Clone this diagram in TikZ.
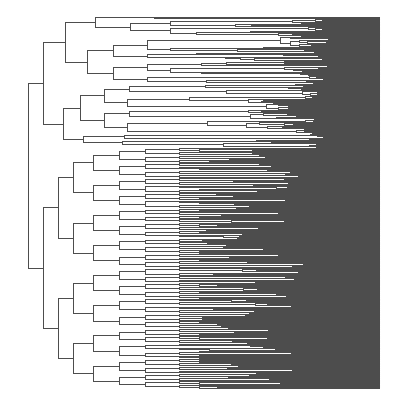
\documentclass[tikz,border=0pt]{standalone}
\definecolor{lc}{RGB}{77,77,77}
\newcount\myrsQ \newcount\myrtQ \newcount\myrqQ
\global\myrsQ=12345
\def\nextr{\myrtQ=\myrsQ \multiply\myrtQ by 171 \myrqQ=\myrtQ \divide\myrqQ by 30269 \multiply\myrqQ by 30269 \advance\myrtQ by -\myrqQ \global\myrsQ=\myrtQ \edef\rrQ{\the\numexpr\myrsQ/3\relax}}
\gdef\Hb{80}
% child x for a child of n leaves, parent x in \xsQ
\newcommand\childx[1]{%
  \ifnum#1=1 \def\xcQ{380}\else
    \nextr
    \pgfmathsetmacro\xcQ{380-(\Hb+50*ln(#1/2))*(0.55+0.9*\rrQ/10090)}%
    \pgfmathsetmacro\xcQ{min(max(\xcQ,\xsQ+0.1*(380-\xsQ)),\xsQ+0.9*(380-\xsQ))}%
  \fi}
% random subtree over leaves #1..#2, node at x=#3
\newcommand\RT[3]{%
  \begingroup
  \edef\loQ{#1}\edef\hiQ{#2}\edef\xsQ{#3}%
  \ifnum\loQ=\hiQ\relax
    \pgfmathsetmacro\ymQ{17.5+0.9416*\loQ}%
    \xdef\retY{\ymQ}\xdef\retX{380}%
  \else
    \edef\nnQ{\the\numexpr\hiQ-\loQ+1\relax}%
    \nextr
    \pgfmathtruncatemacro\naQ{max(1,min(\nnQ-1,floor(\nnQ*(0.3+0.4*\rrQ/10090))))}%
    \edef\kaQ{\the\numexpr\loQ+\naQ-1\relax}%
    \edef\kbQ{\the\numexpr\kaQ+1\relax}%
    \edef\nbQ{\the\numexpr\nnQ-\naQ\relax}%
    \childx{\naQ}%
    \RT{\loQ}{\kaQ}{\xcQ}\edef\yaQ{\retY}\edef\xaQ{\retX}%
    \childx{\nbQ}%
    \RT{\kbQ}{\hiQ}{\xcQ}\edef\ybQ{\retY}\edef\xbQ{\retX}%
    \draw[dl] (\xaQ,\yaQ) -- (\xsQ,\yaQ) -- (\xsQ,\ybQ) -- (\xbQ,\ybQ);
    \pgfmathsetmacro\ymQ{(\yaQ+\ybQ)/2}%
    \xdef\retY{\ymQ}\xdef\retX{\xsQ}%
  \fi
  \endgroup}
% fixed node at x=#1 joining two subtrees
\newcommand\TT[3]{%
  \begingroup
  \edef\xsQ{#1}%
  #2\edef\yaQ{\retY}\edef\xaQ{\retX}%
  #3\edef\ybQ{\retY}\edef\xbQ{\retX}%
  \draw[dl] (\xaQ,\yaQ) -- (\xsQ,\yaQ) -- (\xsQ,\ybQ) -- (\xbQ,\ybQ);
  \pgfmathsetmacro\ymQ{(\yaQ+\ybQ)/2}%
  \xdef\retY{\ymQ}\xdef\retX{\xsQ}%
  \endgroup}
% balanced subtree
\newcommand\BT[3]{%
  \begingroup
  \edef\loQ{#1}\edef\hiQ{#2}\edef\lvQ{#3}%
  \ifnum\lvQ=6\relax
    \RT{\loQ}{\hiQ}{179}%
  \else
    \edef\mdQ{\the\numexpr(\loQ+\hiQ-1)/2\relax}%
    \edef\mdpQ{\the\numexpr\mdQ+1\relax}%
    \edef\nlQ{\the\numexpr\lvQ+1\relax}%
    \edef\xsQ{\ifcase\lvQ\space 43\or 58\or 73\or 93\or 119\or 145\fi}%
    \BT{\loQ}{\mdQ}{\nlQ}\edef\yaQ{\retY}\edef\xaQ{\retX}%
    \BT{\mdpQ}{\hiQ}{\nlQ}\edef\ybQ{\retY}\edef\xbQ{\retX}%
    \draw[dl] (\xaQ,\yaQ) -- (\xsQ,\yaQ) -- (\xsQ,\ybQ) -- (\xbQ,\ybQ);
    \pgfmathsetmacro\ymQ{(\yaQ+\ybQ)/2}%
    \xdef\retY{\ymQ}\xdef\retX{\xsQ}%
  \fi
  \endgroup}
\begin{document}
\begin{tikzpicture}[x=1pt,y=-1pt,dl/.style={draw=lc,line width=1pt}]
\useasboundingbox (0,0) rectangle (407,405);
\TT{28}{%
  \gdef\Hb{92}%
  \TT{43}{%
    \TT{65}{%
      \TT{95}{\RT{0}{1}{154}}{\TT{130}{\RT{2}{10}{170}}{\RT{11}{20}{170}}}%
    }{%
      \TT{87}{\TT{113}{\RT{21}{37}{147}}{\RT{38}{46}{147}}}{\TT{113}{\RT{47}{62}{147}}{\RT{63}{70}{147}}}%
    }%
  }{%
    \TT{63}{%
      \TT{80}{\TT{104}{\RT{71}{83}{129}}{\RT{84}{98}{127}}}{\TT{104}{\RT{99}{108}{129}}{\RT{109}{123}{127}}}%
    }{%
      \TT{83}{\RT{124}{130}{124}}{\RT{131}{138}{122}}%
    }%
  }%
}{%
  \gdef\Hb{138}%
  \BT{139}{394}{0}%
}
\end{tikzpicture}
\end{document}
